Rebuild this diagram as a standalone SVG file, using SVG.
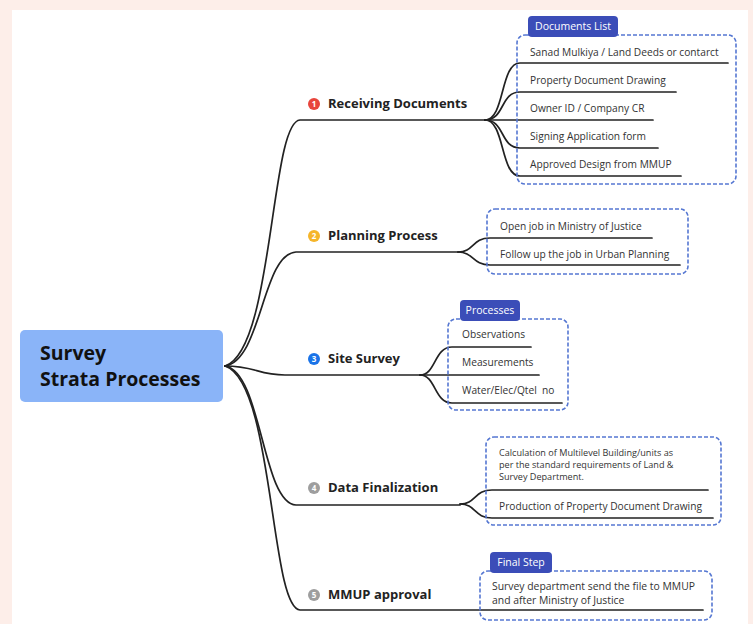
<svg xmlns="http://www.w3.org/2000/svg" width="753" height="624" viewBox="0 0 753 624">
<defs>
<style>
.bg{fill:#fdeee9}
.panel{fill:#ffffff}
.conn{fill:none;stroke:#222;stroke-width:1.7;stroke-linecap:round}
.box{fill:none;stroke:#5577d2;stroke-width:1.6;stroke-dasharray:4 2}
.tab{fill:#3b4db8}
.tabt{font-family:"Open Sans","Liberation Sans",sans-serif;font-size:10.5px;fill:#ffffff;text-anchor:middle}
.main{font-family:"Open Sans","Liberation Sans",sans-serif;font-size:13px;font-weight:bold;fill:#222}
.child{font-family:"Open Sans","Liberation Sans",sans-serif;font-size:10.2px;fill:#333}
.small{font-family:"Open Sans","Liberation Sans",sans-serif;font-size:9.1px;fill:#333}
.mm{font-family:"Open Sans","Liberation Sans",sans-serif;font-size:10.4px;fill:#333}
.root{font-family:"Open Sans","Liberation Sans",sans-serif;font-size:19.5px;font-weight:bold;fill:#111}
.num{font-family:"Open Sans","Liberation Sans",sans-serif;font-size:8px;font-weight:bold;fill:#fff;text-anchor:middle}
</style>
</defs>
<rect class="bg" x="0" y="0" width="753" height="624"/>
<rect class="panel" x="12" y="10" width="736" height="614"/>

<g id="connectors">
<path class="conn" d="M225,366 C274,350 270,122 300,120 H485"/>
<path class="conn" d="M225,366 C262,360 262,254 296,252 H458"/>
<path class="conn" d="M225,366 C255,366 258,375 285,375 H420"/>
<path class="conn" d="M225,366 C262,372 262,503 296,505 H460"/>
<path class="conn" d="M225,366 C274,382 270,608 300,610 H703"/>
<path class="conn" d="M485,120 C505,120 500,63 520,63 H728"/>
<path class="conn" d="M485,120 C505,120 500,92 520,92 H676"/>
<path class="conn" d="M485,120 H653"/>
<path class="conn" d="M485,120 C505,120 500,148 520,148 H658"/>
<path class="conn" d="M485,120 C505,120 500,176 520,176 H681"/>
<path class="conn" d="M458,252 C474,252 472,238 490,238 H652"/>
<path class="conn" d="M458,252 C474,252 472,265 490,265 H680"/>
<path class="conn" d="M420,375 C436,375 434,347 452,347 H531"/>
<path class="conn" d="M420,375 H539"/>
<path class="conn" d="M420,375 C436,375 434,403 452,403 H562"/>
<path class="conn" d="M460,504 C476,504 474,490 492,490 H708"/>
<path class="conn" d="M460,504 C476,504 474,518 492,518 H713"/>
</g>

<g id="root">
<rect x="20" y="330" width="203" height="72" rx="5" fill="#8ab4f8"/>
<text class="root" x="40" y="360">Survey</text>
<text class="root" x="40" y="386">Strata Processes</text>
</g>

<g id="n1">
<circle cx="314" cy="104" r="6" fill="#e8453c"/>
<text class="num" x="314" y="107">1</text>
<text class="main" x="328" y="108">Receiving Documents</text>
</g>
<g id="n1-box">
<rect class="box" x="517" y="35" width="219" height="149" rx="8"/>
<rect class="tab" x="528" y="16" width="90" height="21" rx="4"/>
<text class="tabt" x="573" y="30">Documents List</text>
</g>
<g id="n1-c1"><text class="child" x="530" y="56">Sanad Mulkiya / Land Deeds or contarct</text></g>
<g id="n1-c2"><text class="child" x="530" y="84">Property Document Drawing</text></g>
<g id="n1-c3"><text class="child" x="530" y="112">Owner ID / Company CR</text></g>
<g id="n1-c4"><text class="child" x="530" y="140">Signing Application form</text></g>
<g id="n1-c5"><text class="child" x="530" y="168">Approved Design from MMUP</text></g>

<g id="n2">
<circle cx="314" cy="236" r="6" fill="#f5b52a"/>
<text class="num" x="314" y="239">2</text>
<text class="main" x="328" y="240">Planning Process</text>
<rect class="box" x="487" y="209" width="201" height="65" rx="8"/>
</g>
<g id="n2-c1"><text class="child" x="500" y="230">Open job in Ministry of Justice</text></g>
<g id="n2-c2"><text class="child" x="500" y="258">Follow up the job in Urban Planning</text></g>

<g id="n3">
<circle cx="314" cy="359" r="6" fill="#1a73e8"/>
<text class="num" x="314" y="362">3</text>
<text class="main" x="328" y="363">Site Survey</text>
<rect class="box" x="448" y="319" width="120" height="91" rx="8"/>
<rect class="tab" x="460" y="300" width="60" height="21" rx="4"/>
<text class="tabt" x="490" y="314">Processes</text>
</g>
<g id="n3-c1"><text class="child" x="462" y="338">Observations</text></g>
<g id="n3-c2"><text class="child" x="462" y="366">Measurements</text></g>
<g id="n3-c3"><text class="child" x="462" y="394" xml:space="preserve">Water/Elec/Qtel  no</text></g>

<g id="n4">
<circle cx="314" cy="488" r="6" fill="#9e9e9e"/>
<text class="num" x="314" y="491">4</text>
<text class="main" x="328" y="492">Data Finalization</text>
<rect class="box" x="486" y="437" width="235" height="88" rx="8"/>
</g>
<g id="n4-c1">
<text class="small" x="499" y="456">Calculation of Multilevel Building/units as</text>
<text class="small" x="499" y="468">per the standard requirements of Land &amp;</text>
<text class="small" x="499" y="480">Survey Department.</text>
</g>
<g id="n4-c2"><text class="child" x="499" y="510">Production of Property Document Drawing</text></g>

<g id="n5">
<circle cx="314" cy="595" r="6" fill="#9e9e9e"/>
<text class="num" x="314" y="598">5</text>
<text class="main" x="328" y="599">MMUP approval</text>
<rect class="box" x="480" y="571" width="232" height="49" rx="8"/>
<rect class="tab" x="490" y="552" width="62" height="21" rx="4"/>
<text class="tabt" x="521" y="566">Final Step</text>
</g>
<g id="n5-c1">
<text class="mm" x="492" y="590">Survey department send the file to MMUP</text>
<text class="mm" x="492" y="604">and after Ministry of Justice</text>
</g>
</svg>
